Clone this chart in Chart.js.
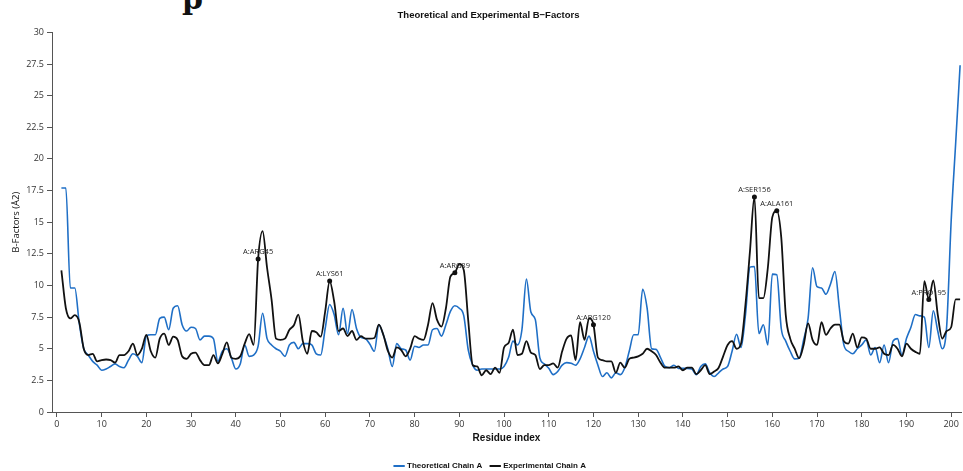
<!DOCTYPE html>
<html lang="en">
<head>
    <meta charset="UTF-8">
    <title>B-Factors</title>
    <style>
        body { margin: 0; background: #fff; overflow: hidden; }
        .wrap { position: relative; width: 963px; height: 471px; }
        .head { position: absolute; left: 182px; top: -16px; font: bold 30px "DejaVu Serif", serif; line-height: 30px; color: #111; }
        #chart { position: absolute; left: 0; top: 0; }
    </style>
</head>
<body>
    <div class="wrap">
        <div class="head">p</div>
        <canvas id="chart" width="963" height="471"></canvas>
    </div>
    <script src="https://cdn.jsdelivr.net/npm/chart.js"></script>
    <script>
        // B-factor per residue, chain A
        const theoretical = [
            17.7, 17.7, 9.8, 9.8, 7.0, 5.0, 4.5, 4.0, 3.7, 3.3,
            3.4, 3.6, 3.8, 3.6, 3.5, 4.1, 4.6, 4.4, 3.9, 6.0,
            6.1, 6.1, 7.4, 7.5, 6.5, 8.2, 8.4, 6.9, 6.4, 6.7,
            6.6, 5.7, 6.0, 6.0, 5.8, 4.0, 4.8, 5.0, 4.3, 3.4,
            3.8, 5.3, 4.4, 4.5, 5.2, 7.8, 5.8, 5.3, 5.0, 4.8,
            4.4, 5.3, 5.5, 5.0, 5.4, 5.4, 5.3, 4.6, 4.5, 6.6,
            8.5, 7.7, 6.1, 8.2, 6.2, 8.1, 6.6, 5.9, 5.8, 5.35,
            4.8, 6.9, 6.1, 5.0, 3.6, 5.4, 5.0, 4.9, 4.1, 5.2,
            5.1, 5.3, 5.3, 6.5, 6.6, 6.0, 6.9, 7.95, 8.4, 8.2,
            7.6, 4.9, 3.7, 3.3, 3.4, 3.4, 3.4, 3.4, 3.4, 3.6,
            4.3, 5.6, 5.3, 6.5, 10.5, 7.9, 7.3, 4.3, 3.8, 3.45,
            2.95, 3.2, 3.7, 3.9, 3.85, 3.7, 4.2, 5.1, 6.0, 4.8,
            3.7, 2.8, 3.1, 2.7, 3.1, 2.95, 3.5, 4.8, 6.1, 6.1,
            9.7, 8.2, 5.0, 4.95, 4.3, 3.6, 3.5, 3.7, 3.45, 3.45,
            3.45, 3.4, 2.95, 3.6, 3.8, 3.1, 2.8, 3.1, 3.4, 3.6,
            4.8, 6.15, 5.1, 7.7, 11.45, 11.5, 6.2, 6.9, 5.3, 10.9,
            10.85, 6.6, 5.6, 4.8, 4.2, 4.25, 5.7, 7.4, 11.4, 9.9,
            9.8, 9.3, 10.1, 11.1, 8.2, 5.3, 4.8, 4.6, 5.0, 5.3,
            5.7, 4.5, 5.1, 3.9, 5.3, 3.9, 5.6, 5.8, 4.5, 5.8,
            6.7, 7.7, 7.6, 7.5, 5.1, 8.0, 6.4, 5.0, 6.8, 15.1,
            21.2, 27.4
        ];
        const experimental = [
            11.2, 8.2, 7.4, 7.65, 7.1, 5.0, 4.5, 4.6, 4.0, 4.1,
            4.15, 4.1, 3.9, 4.5, 4.5, 4.8, 5.4, 4.5, 5.0, 6.1,
            4.8, 4.3, 5.8, 6.2, 5.3, 5.95, 5.7, 4.4, 4.2, 4.6,
            4.7, 4.1, 3.7, 3.7, 4.5, 3.85, 4.6, 5.5, 4.3, 4.2,
            4.4, 5.4, 6.15, 5.3, 12.1, 14.3, 11.4, 8.9, 5.8, 5.7,
            5.8, 6.5, 6.85, 7.7, 5.6, 4.6, 6.4, 6.3, 5.95, 7.95,
            10.35, 8.75, 6.4, 6.6, 6.0, 6.4, 5.7, 6.0, 5.8, 5.8,
            5.85, 6.9, 6.1, 4.85, 4.3, 5.1, 4.9, 4.4, 5.0, 6.0,
            5.8, 5.7, 6.9, 8.6, 7.3, 6.75, 8.2, 10.7, 11.0, 11.7,
            11.2, 7.2, 3.7, 3.6, 2.9, 3.3, 3.0, 3.5, 3.1, 5.1,
            5.45, 6.5, 4.5, 4.6, 5.6, 4.7, 4.5, 3.4, 3.7, 3.7,
            3.85, 3.5, 4.8, 5.8, 6.05, 4.1, 7.1, 5.7, 7.4, 6.9,
            4.3, 4.1, 4.0, 4.0, 3.1, 3.9, 3.5, 4.2, 4.3, 4.4,
            4.6, 5.0, 4.8, 4.5, 3.9, 3.5, 3.5, 3.5, 3.6, 3.3,
            3.5, 3.5, 3.0, 3.3, 3.7, 3.0, 3.2, 3.5, 4.4, 5.3,
            5.6, 5.0, 5.4, 8.5, 12.7, 17.0, 9.0, 9.0, 11.4, 15.4,
            15.9, 13.8, 7.7, 5.8, 5.0, 4.25, 5.3, 7.0, 5.7, 5.3,
            7.1, 6.1, 6.6, 6.9, 6.9, 5.6, 5.4, 6.2, 5.1, 5.9,
            5.8, 5.0, 5.0, 5.1, 4.6, 4.5, 5.3, 5.0, 4.4, 5.4,
            5.0, 4.75, 4.6, 10.35, 8.9, 10.4, 7.7, 5.8, 6.4, 6.7,
            8.9, 8.9
        ];
        // labelled residues on the experimental curve
        const markedResidues = [45, 61, 89, 120, 156, 161, 195];
        const markedNames = ['A:ARG45', 'A:LYS61', 'A:ARG89', 'A:ARG120', 'A:SER156', 'A:ALA161', 'A:PRO195'];
        const xTicks = [0, 10, 20, 30, 40, 50, 60, 70, 80, 90, 100, 110, 120, 130, 140, 150, 160, 170, 180, 190, 200];
        const yTicks = [0, 2.5, 5, 7.5, 10, 12.5, 15, 17.5, 20, 22.5, 25, 27.5, 30];

        const firstResidue = 1;
        const toPoints = arr => arr.map((v, i) => ({ x: firstResidue + i, y: v }));
        const markRadius = experimental.map((v, i) => markedResidues.includes(firstResidue + i) ? 1.5 : 0);

        const axisColor = '#555';
        const tickFont = { family: '"Open Sans", sans-serif', size: 9 };
        const boldFont = { family: '"Liberation Sans Narrow", "Liberation Sans", sans-serif', size: 9.5, weight: 'bold' };

        // residue names above their markers, plus small nudges for title and legend
        const residueLabels = {
            id: 'residueLabels',
            afterLayout(chart) {
                chart.titleBlock.left += 8;
                chart.titleBlock.right += 8;
                chart.legend.top += 9;
                chart.legend.bottom += 9;
                chart.legend.left += 10;
                chart.legend.right += 10;
            },
            afterDatasetsDraw(chart) {
                const meta = chart.getDatasetMeta(1);
                const ctx = chart.ctx;
                ctx.save();
                ctx.font = '7.5px "Open Sans", sans-serif';
                ctx.fillStyle = '#222';
                ctx.textAlign = 'center';
                ctx.textBaseline = 'bottom';
                markedResidues.forEach((r, k) => {
                    const pt = meta.data[r - firstResidue];
                    ctx.fillText(markedNames[k], pt.x, pt.y - 3);
                });
                ctx.restore();
            }
        };

        new Chart(document.getElementById('chart'), {
            type: 'line',
            data: {
                datasets: [
                    {
                        label: 'Theoretical Chain A',
                        data: toPoints(theoretical),
                        borderColor: '#1f6fc6',
                        backgroundColor: '#1f6fc6',
                        borderWidth: 1.6,
                        pointRadius: 0,
                        pointBorderColor: '#1f6fc6',
                        pointBorderWidth: 2,
                        cubicInterpolationMode: 'monotone',
                        order: 1
                    },
                    {
                        label: 'Experimental Chain A',
                        data: toPoints(experimental),
                        borderColor: '#111',
                        backgroundColor: '#111',
                        borderWidth: 1.8,
                        pointRadius: markRadius,
                        pointBackgroundColor: '#111',
                        pointBorderColor: '#111',
                        pointBorderWidth: 2,
                        cubicInterpolationMode: 'monotone',
                        order: 0
                    }
                ]
            },
            options: {
                responsive: false,
                animation: false,
                layout: { padding: { left: 0, right: 2, top: 0, bottom: 0 } },
                plugins: {
                    title: {
                        display: true,
                        text: 'Theoretical and Experimental B\u2212Factors',
                        color: '#111',
                        font: boldFont,
                        padding: { top: 10, bottom: 11 }
                    },
                    legend: {
                        position: 'bottom',
                        labels: {
                            usePointStyle: true,
                            pointStyle: 'line',
                            boxWidth: 10,
                            padding: 9,
                            color: '#111',
                            font: { family: boldFont.family, size: 8, weight: 'bold' },
                            sort: (a, b) => a.datasetIndex - b.datasetIndex
                        }
                    },
                    tooltip: { enabled: false }
                },
                scales: {
                    x: {
                        type: 'linear',
                        min: -1.1,
                        max: 202.2,
                        afterBuildTicks: s => { s.ticks = xTicks.map(v => ({ value: v })); },
                        afterFit: s => { s.height = 32; },
                        grid: { drawOnChartArea: false, drawTicks: true, tickLength: 5, color: axisColor },
                        border: { color: axisColor },
                        ticks: { color: '#333', font: tickFont, padding: 2, maxRotation: 0 },
                        title: { display: true, text: 'Residue index', color: '#111', font: { ...boldFont, size: 10 }, padding: { top: 2, bottom: 0 } }
                    },
                    y: {
                        min: 0,
                        max: 30,
                        afterBuildTicks: s => { s.ticks = yTicks.map(v => ({ value: v })); },
                        afterFit: s => { s.width = 52; },
                        grid: { drawOnChartArea: false, drawTicks: true, tickLength: 5, color: axisColor },
                        border: { color: axisColor },
                        ticks: { color: '#333', font: tickFont, padding: 3 },
                        title: { display: true, text: 'B-Factors (Å2)', color: '#111', font: { family: tickFont.family, size: 9.5 }, padding: { top: 11, bottom: 0 } }
                    }
                }
            },
            plugins: [residueLabels]
        });
    </script>
</body>
</html>
